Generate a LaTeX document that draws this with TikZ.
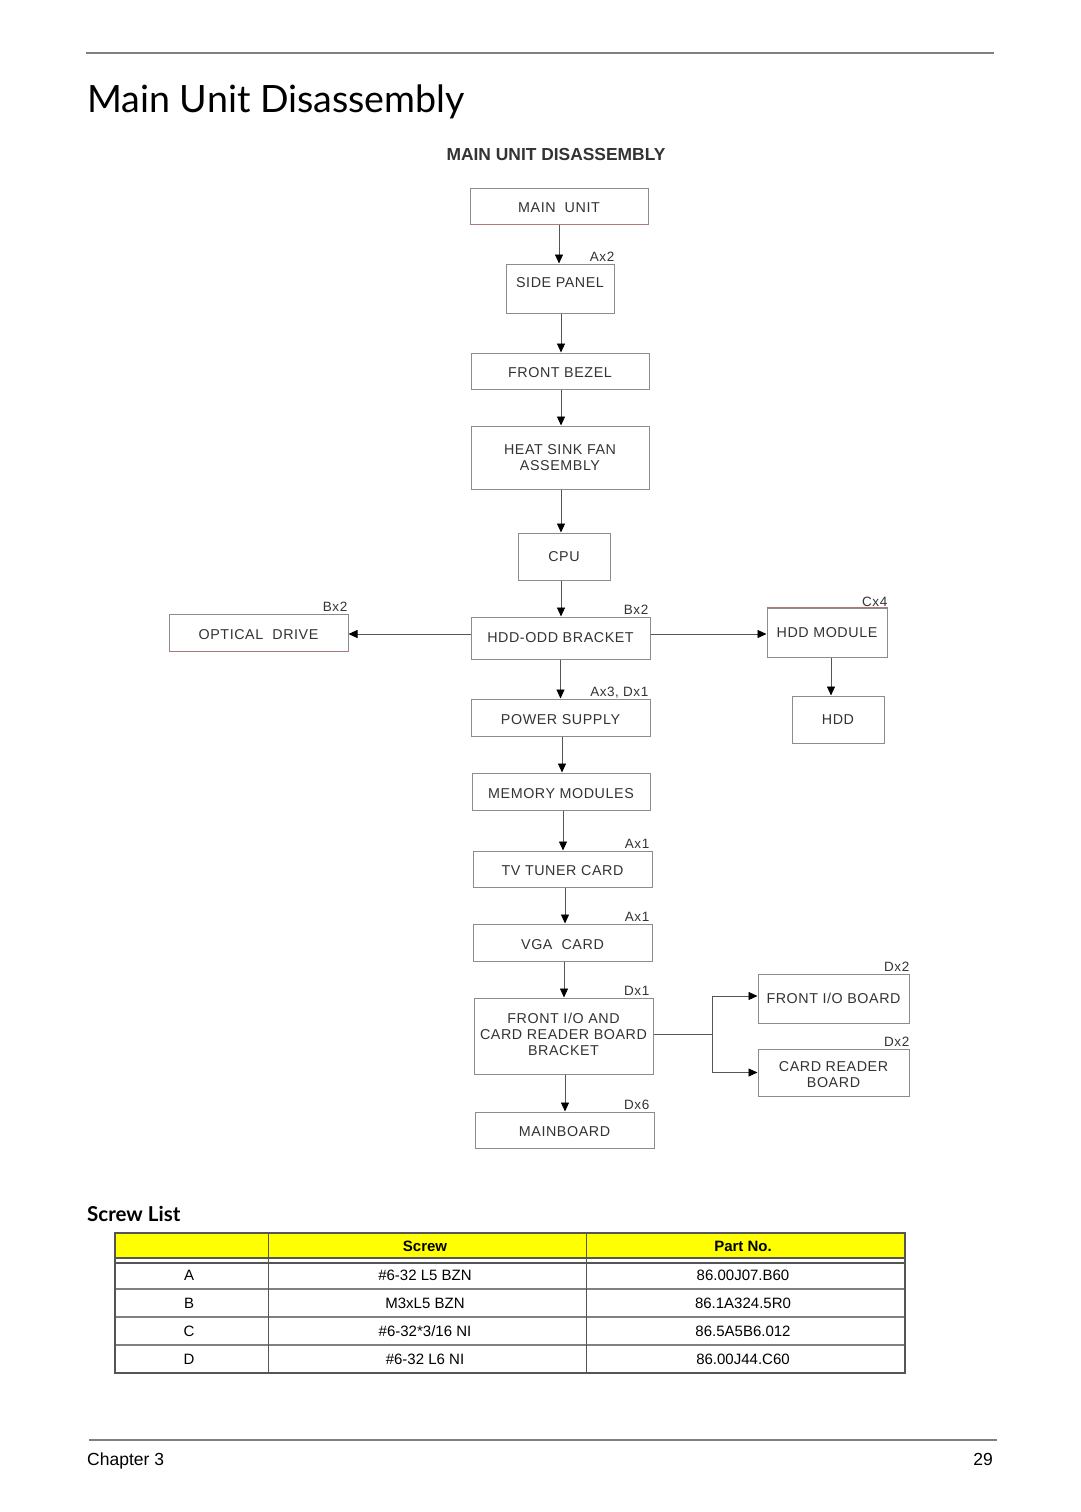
\documentclass[tikz,border=0pt]{standalone}
\usepackage{fontspec}
\setmainfont{Liberation Sans}
\newfontfamily\boxfont[LetterSpace=4]{Liberation Sans}
\newfontfamily\headfont{Lato}
\usetikzlibrary{arrows.meta}
\definecolor{boxline}{HTML}{8C8C8C}
\definecolor{conn}{HTML}{555555}
\definecolor{redline}{HTML}{B07878}
\definecolor{txt}{HTML}{333333}
\definecolor{rule}{HTML}{808080}
\definecolor{yel}{HTML}{FFFF00}
\begin{document}
\begin{tikzpicture}[x=1pt,y=-1pt,
  box/.style={draw=boxline,line width=1pt,inner sep=0pt,align=center,text=txt,
    font=\boxfont\fontsize{14.3}{16}\selectfont},
  low/.style={text height=13.5pt,text depth=0pt},
  boxtxt/.style={inner sep=0pt,align=center,text=txt,font=\boxfont\fontsize{14.3}{16}\selectfont},
  lab/.style={inner sep=0pt,anchor=base east,text=txt,font=\boxfont\fontsize{13.5}{15}\selectfont},
  arr/.style={draw=conn,line width=0.9pt,-{Triangle[length=9pt,width=8pt,color=black]}},
  plain/.style={draw=conn,line width=0.9pt},
  cell/.style={inner sep=0pt,font=\fontsize{15}{17}\selectfont},
  hcell/.style={inner sep=0pt,font=\bfseries\fontsize{15}{17}\selectfont},
]
\useasboundingbox[fill=white] (0,0) rectangle (1080,1512);

% page header
\draw[rule,line width=2pt] (86,53) -- (994,53);
\node[anchor=base west,inner sep=0pt,font=\headfont\fontsize{37.6}{40}\selectfont] (title) at (87,112) {Main Unit Disassembly};
\node[inner sep=0pt,text=txt,font=\bfseries\fontsize{17.4}{19}\selectfont] (subtitle) at (556,155) {MAIN UNIT DISASSEMBLY};

% boxes
\node[box,low,minimum width=178,minimum height=36] (main) at (559,206) {MAIN\ \ UNIT};
\node[box,minimum width=108,minimum height=49] (side) at (560,288.5) {};
\node[boxtxt] (sidet) at (560,283) {SIDE PANEL};
\node[box,low,minimum width=178,minimum height=36] (bezel) at (560,371) {FRONT BEZEL};
\node[box,minimum width=178,minimum height=63] (heat) at (560,457.5) {HEAT SINK FAN\\ASSEMBLY};
\node[box,minimum width=92,minimum height=47] (cpu) at (564,556.5) {CPU};
\node[box,minimum width=179,minimum height=42] (brk) at (560.5,638) {HDD-ODD BRACKET};
\node[box,low,minimum width=179,minimum height=37] (odd) at (258.5,632.5) {OPTICAL\ \ DRIVE};
\node[box,minimum width=120,minimum height=49] (hddm) at (827,632.5) {HDD MODULE};
\node[box,minimum width=92,minimum height=47] (hdd) at (838,719.5) {HDD};
\node[box,low,minimum width=179,minimum height=37] (ps) at (560.5,717.5) {POWER SUPPLY};
\node[box,low,minimum width=178,minimum height=37] (mem) at (561,791.5) {MEMORY MODULES};
\node[box,low,minimum width=179,minimum height=36] (tv) at (562.5,869) {TV TUNER CARD};
\node[box,low,minimum width=179,minimum height=37] (vga) at (562.5,942.5) {VGA\ \ CARD};
\node[box,minimum width=179,minimum height=76] (fio) at (563.5,1036) {};
\node[boxtxt] (fiot) at (563.5,1034) {FRONT I/O AND\\CARD READER BOARD\\BRACKET};
\node[box,minimum width=151,minimum height=49] (fiob) at (833.5,998.5) {FRONT I/O BOARD};
\node[box,minimum width=151,minimum height=47] (crb) at (833.5,1072.5) {};
\node[boxtxt] (crbt) at (833.5,1074.5) {CARD READER\\BOARD};
\node[box,low,minimum width=179,minimum height=36] (mb) at (564.5,1130) {MAINBOARD};

% reddish edges
\draw[redline,line width=1pt] (main.south west) -- (main.south east);
\draw[redline,line width=1pt] (odd.south west) -- (odd.south east);
\draw[redline,line width=1pt] (hddm.north west) -- (hddm.north east);

% screw labels
\node[lab] (l1) at ([yshift=2.3pt]side.north east) {Ax2};
\node[lab] (l2) at ([yshift=2.3pt,xshift=-2pt]brk.north east) {Bx2};
\node[lab] (l3) at ([yshift=2.3pt,xshift=-1pt]odd.north east) {Bx2};
\node[lab] (l4) at ([yshift=1pt]hddm.north east) {Cx4};
\node[lab] (l5) at ([yshift=2.3pt,xshift=-2pt]ps.north east) {Ax3, Dx1};
\node[lab] (l6) at ([yshift=2.3pt,xshift=-3pt]tv.north east) {Ax1};
\node[lab] (l7) at ([yshift=2.3pt,xshift=-3pt]vga.north east) {Ax1};
\node[lab] (l8) at ([yshift=2.3pt,xshift=-4pt]fio.north east) {Dx1};
\node[lab] (l9) at ([yshift=2.3pt]fiob.north east) {Dx2};
\node[lab] (l10) at ([yshift=2.3pt]crb.north east) {Dx2};
\node[lab] (l11) at ([yshift=2.3pt,xshift=-5pt]mb.north east) {Dx6};

% connectors
\draw[arr] (main.south) -- (main.south |- side.north);
\draw[arr] ([xshift=1pt]side.south) -- ([xshift=1pt]side.south |- bezel.north);
\draw[arr] ([xshift=1pt]bezel.south) -- ([xshift=1pt]bezel.south |- heat.north);
\draw[arr] ([xshift=1pt]heat.south) -- ([xshift=1pt]heat.south |- cpu.north);
\draw[arr] ([xshift=-3pt]cpu.south) -- ([xshift=-3pt]cpu.south |- brk.north);
\draw[arr] (brk.south) -- (brk.south |- ps.north);
\draw[arr] ([yshift=4pt]brk.west) -- ([yshift=4pt]brk.west -| odd.east);
\draw[arr] ([yshift=4pt]brk.east) -- ([yshift=4pt]brk.east -| hddm.west);
\draw[arr] ([xshift=4pt]hddm.south) -- ([xshift=4pt]hddm.south |- hdd.north);
\draw[arr] ([xshift=1.5pt]ps.south) -- ([xshift=1.5pt]ps.south |- mem.north);
\draw[arr] ([xshift=2pt]mem.south) -- ([xshift=2pt]mem.south |- tv.north);
\draw[arr] ([xshift=2.5pt]tv.south) -- ([xshift=2.5pt]tv.south |- vga.north);
\draw[arr] ([xshift=1.5pt]vga.south) -- ([xshift=1.5pt]vga.south |- fio.north);
\draw[arr] ([xshift=1.5pt]fio.south) -- ([xshift=1.5pt]fio.south |- mb.north);
\coordinate (br) at (712,1034);
\draw[plain] (fio.east |- br) -- (br);
\draw[arr] (br) |- ([yshift=2.5pt]fiob.west);
\draw[arr] (br) |- (crb.west);

% screw list
\node[anchor=base west,inner sep=0pt,font=\headfont\bfseries\fontsize{20.5}{22}\selectfont] (sl) at (87,1221) {Screw List};
\fill[yel] (115,1233) rectangle (905,1258);
\draw[conn,line width=1.6pt] (115,1258) -- (905,1258);
\draw[conn,line width=1.6pt] (115,1263) -- (905,1263);
\draw[rule,line width=1.8pt] (115,1289) -- (905,1289);
\draw[rule,line width=1.8pt] (115,1317) -- (905,1317);
\draw[rule,line width=1.8pt] (115,1345) -- (905,1345);
\draw[conn,line width=1pt] (268,1233) -- (268,1373);
\draw[conn,line width=1pt] (586,1233) -- (586,1373);
\draw[conn,line width=1.8pt] (115,1233) rectangle (905,1373);
\node[hcell] (h2) at (425,1246) {Screw};
\node[hcell] (h3) at (743,1246) {Part No.};
\node[cell] (a1) at (189,1275) {A};
\node[cell] (a2) at (425,1275) {\#6-32 L5 BZN};
\node[cell] (a3) at (743,1275) {86.00J07.B60};
\node[cell] (b1) at (189,1303) {B};
\node[cell] (b2) at (425,1303) {M3xL5 BZN};
\node[cell] (b3) at (743,1303) {86.1A324.5R0};
\node[cell] (c1) at (189,1331) {C};
\node[cell] (c2) at (425,1331) {\#6-32*3/16 NI};
\node[cell] (c3) at (743,1331) {86.5A5B6.012};
\node[cell] (d1) at (189,1359) {D};
\node[cell] (d2) at (425,1359) {\#6-32 L6 NI};
\node[cell] (d3) at (743,1359) {86.00J44.C60};

% footer
\draw[rule,line width=2pt] (89,1440) -- (997,1440);
\node[anchor=base west,inner sep=0pt,font=\fontsize{17.5}{20}\selectfont] (ch) at (87,1465) {Chapter 3};
\node[anchor=base east,inner sep=0pt,font=\fontsize{17.5}{20}\selectfont] (pg) at (993,1465) {29};
\end{tikzpicture}
\end{document}
